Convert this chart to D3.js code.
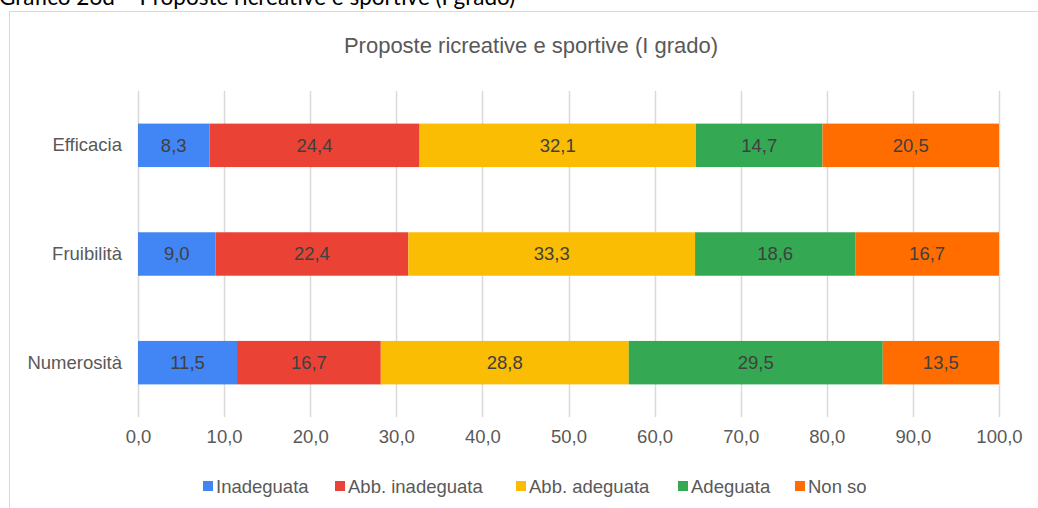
<!DOCTYPE html>
<html>
<head>
<meta charset="utf-8">
<script src="https://cdn.jsdelivr.net/npm/d3@7"></script>
<style>
  body { margin: 0; background: #fff; }
  svg { display: block; }
</style>
</head>
<body>
<main></main>
<script>
// Chart data
const categories = ['Efficacia', 'Fruibilità', 'Numerosità'];
const seriesNames = ['Inadeguata', 'Abb. inadeguata', 'Abb. adeguata', 'Adeguata', 'Non so'];
const inadeguata = [8.3, 9.0, 11.5];
const abbInadeguata = [24.4, 22.4, 16.7];
const abbAdeguata = [32.1, 33.3, 28.8];
const adeguata = [14.7, 18.6, 29.5];
const nonSo = [20.5, 16.7, 13.5];
const xTicks = [0, 10, 20, 30, 40, 50, 60, 70, 80, 90, 100];

const colors = ['#4285F4', '#EA4335', '#FBBC04', '#34A853', '#FF6D01'];

const w = 1038;
const h = 508;

const svg = d3.select('main').append('svg').attr('width', w).attr('height', h);

// Page heading, cut off at the top
svg
  .append('text')
  .attr('x', -1)
  .attr('y', 5)
  .style('font-family', 'Lato')
  .style('font-size', '22.5px')
  .attr('fill', '#000')
  .text('Grafico 26d – Proposte ricreative e sportive (I grado)');

// Chart frame
svg
  .append('rect')
  .attr('x', 9.5)
  .attr('y', 11.5)
  .attr('width', w)
  .attr('height', h)
  .attr('fill', 'none')
  .attr('stroke', '#d9d9d9');

svg
  .append('text')
  .attr('x', 531)
  .attr('y', 53)
  .attr('text-anchor', 'middle')
  .style('font-family', 'Liberation Sans')
  .style('font-size', '22px')
  .attr('fill', '#595959')
  .text('Proposte ricreative e sportive (I grado)');

const rows = categories.map((c, i) => ({
  category: c,
  'Inadeguata': inadeguata[i],
  'Abb. inadeguata': abbInadeguata[i],
  'Abb. adeguata': abbAdeguata[i],
  'Adeguata': adeguata[i],
  'Non so': nonSo[i],
}));

const stack = d3.stack().keys(seriesNames)(rows);

const x = d3.scaleLinear().domain([0, 100]).range([138, 999]);
const y = d3
  .scaleBand()
  .domain(categories)
  .range([91, 417])
  .paddingInner(0.6)
  .paddingOuter(0.3);

// Grid lines
svg
  .append('g')
  .selectAll('line')
  .data(xTicks)
  .enter()
  .append('line')
  .attr('x1', (d) => Math.round(x(d)) + 0.5)
  .attr('x2', (d) => Math.round(x(d)) + 0.5)
  .attr('y1', 91)
  .attr('y2', 417)
  .attr('stroke', '#d9d9d9')
  .attr('stroke-width', 1.5);

// x axis tick labels
const xAxis = svg
  .append('g')
  .attr('transform', 'translate(0,417)')
  .call(
    d3
      .axisBottom(x)
      .tickValues(xTicks)
      .tickSize(0)
      .tickPadding(13)
      .tickFormat((d) => d3.format('.1f')(d).replace('.', ','))
  );
xAxis.select('.domain').remove();
xAxis
  .selectAll('text')
  .style('font-family', 'Liberation Sans')
  .style('font-size', '18.5px')
  .attr('fill', '#595959');

// y axis labels
const yAxis = svg
  .append('g')
  .attr('transform', 'translate(138,0)')
  .call(d3.axisLeft(y).tickSize(0).tickPadding(16));
yAxis.select('.domain').remove();
yAxis
  .selectAll('text')
  .style('font-family', 'Liberation Sans')
  .style('font-size', '18.5px')
  .attr('fill', '#595959');

// Bars
const layer = svg
  .append('g')
  .selectAll('g')
  .data(stack)
  .enter()
  .append('g')
  .attr('fill', (d, i) => colors[i]);

layer
  .selectAll('rect')
  .data((d) => d)
  .enter()
  .append('rect')
  .attr('x', (d) => x(d[0]))
  .attr('y', (d) => y(d.data.category))
  .attr('width', (d) => x(d[1]) - x(d[0]))
  .attr('height', y.bandwidth());

layer
  .selectAll('text')
  .data((d) => d)
  .enter()
  .append('text')
  .attr('x', (d) => (x(d[0]) + x(d[1])) / 2)
  .attr('y', (d) => y(d.data.category) + y.bandwidth() / 2)
  .attr('dy', '0.35em')
  .attr('text-anchor', 'middle')
  .style('font-family', 'Liberation Sans')
  .style('font-size', '18.5px')
  .attr('fill', '#404040')
  .text((d) => d3.format('.1f')(d[1] - d[0]).replace('.', ','));

// Legend
const legendX = [203, 335, 516, 678, 795];
const legend = svg
  .append('g')
  .selectAll('g')
  .data(seriesNames)
  .enter()
  .append('g')
  .attr('transform', (d, i) => `translate(${legendX[i]},486)`);

legend
  .append('rect')
  .attr('x', 0)
  .attr('y', -5)
  .attr('width', 10)
  .attr('height', 10)
  .attr('fill', (d, i) => colors[i]);

legend
  .append('text')
  .attr('x', 13)
  .attr('dy', '0.36em')
  .style('font-family', 'Liberation Sans')
  .style('font-size', '18.5px')
  .attr('fill', '#595959')
  .text((d) => d);
</script>
</body>
</html>
